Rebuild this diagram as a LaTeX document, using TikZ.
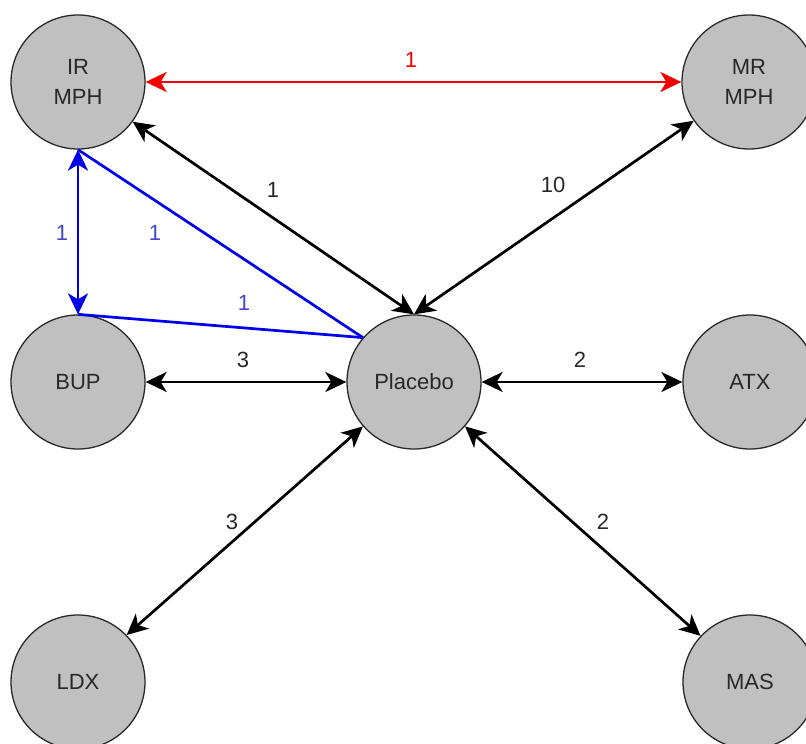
\documentclass[tikz,border=0pt]{standalone}
\usepackage{fontspec}
\setmainfont{Liberation Sans}
\usetikzlibrary{arrows.meta}
\definecolor{nodefill}{RGB}{192,192,192}
\definecolor{nodeline}{RGB}{40,40,40}
\definecolor{txt}{RGB}{40,40,40}
\definecolor{edgeblue}{RGB}{0,0,235}
\definecolor{lblblue}{RGB}{70,70,200}
\definecolor{edgered}{RGB}{245,0,0}
\tikzset{
  drug/.style={circle, draw=nodeline, line width=1.3pt, fill=nodefill,
    minimum size=134pt, inner sep=0pt, text=txt, align=center,
    font=\fontsize{22}{29.5}\selectfont},
  barb/.tip={Stealth[length=21pt, width=20pt, inset=6pt]},
  link/.style={line width=2.7pt, barb-barb},
  plain/.style={line width=2.7pt},
  lbl/.style={font=\fontsize{22}{26}\selectfont, text=txt, inner sep=0pt},
}
\begin{document}
\begin{tikzpicture}[x=1pt, y=-1pt]
\useasboundingbox (0,0) rectangle (806,744);
\begin{scope}
\clip (0,0) rectangle (806,744);
% treatments
\node[drug] (ir)  at (78,82)    {IR\\MPH};
\node[drug] (mr)  at (749,82)   {MR\\MPH};
\node[drug] (bup) at (78,382)   {BUP};
\node[drug] (pla) at (414,382)  {Placebo};
\node[drug] (atx) at (750,382)  {ATX};
\node[drug] (ldx) at (78,682)   {LDX};
\node[drug] (mas) at (750,682)  {MAS};
\end{scope}

% comparisons
\draw[link, draw=edgered] (ir.east) -- (mr.west);
\draw[link] (ir.-36) -- (pla.north);
\draw[link] (mr.-145) -- (pla.north);
\draw[link, draw=edgeblue] (ir.south) -- (bup.north);
\draw[plain, draw=edgeblue] (ir.south) -- (pla.139);
\draw[plain, draw=edgeblue] (bup.north) -- (pla.139);
\draw[link] (bup.east) -- (pla.west);
\draw[link] (pla.east) -- (atx.west);
\draw[link] (pla.-139) -- (ldx.44);
\draw[link] (pla.-41) -- (mas.137);

% numbers of studies
\node[lbl, text=edgered] (n1) at (411,60)  {1};
\node[lbl] (n2) at (273,190) {1};
\node[lbl] (n3) at (553,185) {10};
\node[lbl, text=lblblue] (n4) at (62,233)  {1};
\node[lbl, text=lblblue] (n5) at (155,233) {1};
\node[lbl, text=lblblue] (n6) at (244,303) {1};
\node[lbl] (n7) at (243,360) {3};
\node[lbl] (n8) at (580,360) {2};
\node[lbl] (n9) at (232,522) {3};
\node[lbl] (n10) at (603,522) {2};
\end{tikzpicture}
\end{document}
